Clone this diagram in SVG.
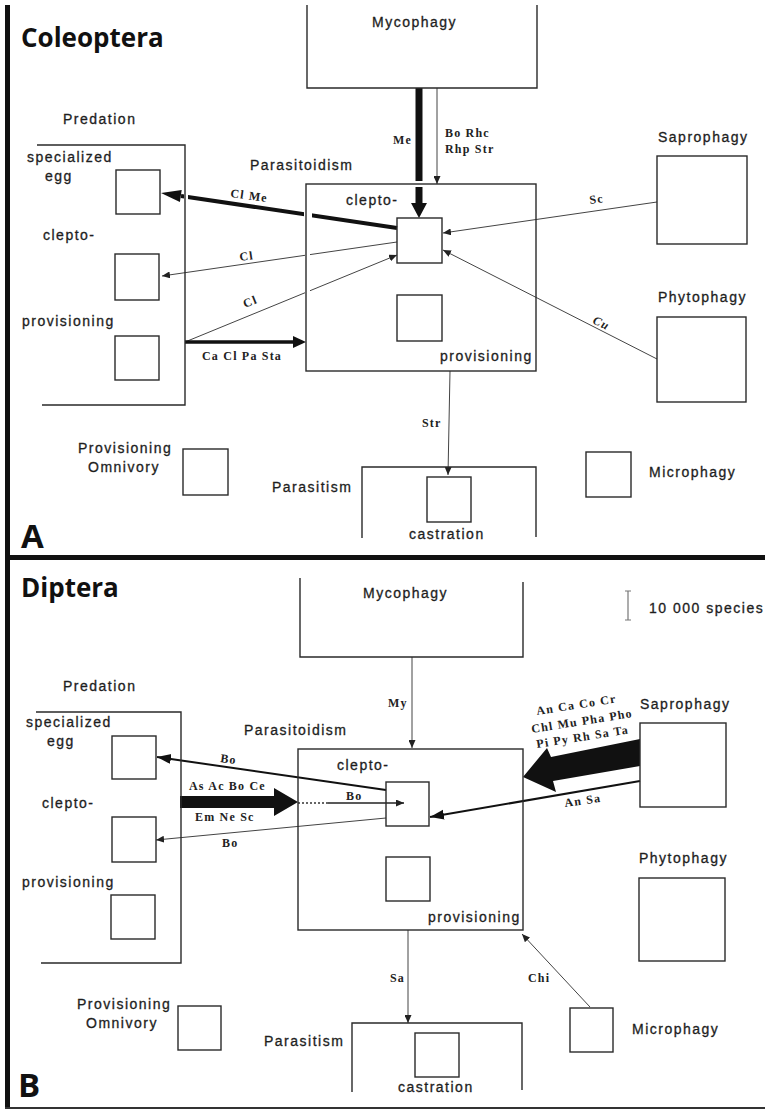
<svg xmlns="http://www.w3.org/2000/svg" width="765" height="1110" viewBox="0 0 765 1110">
<defs>
<style>
.t{font-family:"Liberation Sans",Arial,sans-serif;font-size:14px;letter-spacing:1.5px;fill:#1e1e1e;stroke:#1e1e1e;stroke-width:0.3}
.s{font-family:"Liberation Serif","Times New Roman",serif;font-size:12px;font-weight:bold;letter-spacing:1.2px;fill:#222}
.h{font-family:"Open Sans","DejaVu Sans",sans-serif;font-weight:bold;fill:#111}
.b{fill:none;stroke:#2a2a2a;stroke-width:1.4}
.c{fill:none;stroke:#444;stroke-width:1}
.m{fill:none;stroke:#111;stroke-width:2}
.f{fill:#111}
.g{fill:#fff}
</style>
<marker id="ah" markerUnits="userSpaceOnUse" markerWidth="9" markerHeight="7" refX="8" refY="3.5" orient="auto"><path d="M0,0 L8,3.5 L0,7 z" fill="#222"/></marker>
<marker id="am" markerUnits="userSpaceOnUse" markerWidth="15" markerHeight="11" refX="14" refY="5" orient="auto"><path d="M0,0 L14,5 L0,10 z" fill="#111"/></marker>
</defs>
<rect width="765" height="1110" fill="#fff"/>

<g id="frame">
<rect x="5" y="5" width="5" height="1104" fill="#111"/>
<rect x="5" y="555" width="760" height="5" fill="#111"/>
<line x1="5" y1="1108" x2="765" y2="1108" stroke="#333" stroke-width="2"/>
<text class="h" x="21" y="47" font-size="26">Coleoptera</text>
<text class="h" x="21" y="548" font-size="33">A</text>
<text class="h" x="21" y="597" font-size="26">Diptera</text>
<text class="h" x="18" y="1097" font-size="33">B</text>
</g>

<g id="connectors">
<!-- Panel A -->
<line x1="419" y1="88" x2="419" y2="204" stroke="#111" stroke-width="7"/>
<polygon class="f" points="411,203 427,203 419,218"/>
<line class="c" x1="437" y1="88" x2="437" y2="184" marker-end="url(#ah)"/>
<line x1="397" y1="228" x2="181" y2="196" stroke="#111" stroke-width="4"/>
<polygon class="f" points="161,193 181.7,190 179.9,201.9"/>
<line class="c" x1="397" y1="242" x2="162" y2="276" marker-end="url(#ah)"/>
<line class="c" x1="185" y1="342" x2="397" y2="255" marker-end="url(#ah)"/>
<line x1="185" y1="342" x2="294" y2="342" stroke="#111" stroke-width="3.5"/>
<polygon class="f" points="293,336 306,342 293,348"/>
<line class="c" x1="657" y1="202" x2="443" y2="233" marker-end="url(#ah)"/>
<line class="c" x1="657" y1="359" x2="443" y2="250" marker-end="url(#ah)"/>
<line class="c" x1="450" y1="371" x2="448" y2="475" marker-end="url(#ah)"/>
<rect class="g" x="413" y="181" width="12" height="6"/>
<rect class="g" x="304" y="209" width="8" height="11"/>
<rect class="g" x="184" y="191" width="4" height="10"/>
<rect class="g" x="305" y="252" width="5" height="6"/>
<rect class="g" x="305" y="289" width="5" height="6"/>
<text class="s" x="393" y="144">Me</text>
<text class="s" x="445" y="137">Bo Rhc</text>
<text class="s" x="445" y="153">Rhp Str</text>
<text class="s" x="230" y="197" transform="rotate(8 230 197)">Cl Me</text>
<text class="s" x="240" y="261" transform="rotate(-8 240 261)">Cl</text>
<text class="s" x="245" y="308" transform="rotate(-22 245 308)">Cl</text>
<text class="s" x="202" y="360">Ca Cl Pa Sta</text>
<text class="s" x="590" y="204" transform="rotate(-8 590 204)">Sc</text>
<text class="s" x="592" y="323" font-style="italic" transform="rotate(25 592 323)">Cu</text>
<text class="s" x="422" y="427">Str</text>

<!-- Panel B -->
<line class="c" x1="412" y1="657" x2="412" y2="748" marker-end="url(#ah)"/>
<line class="m" x1="386" y1="790" x2="157" y2="757" marker-end="url(#am)"/>
<polygon class="f" points="180,796 274,796 274,788 298,802 274,816 274,808 180,808"/>
<line x1="298" y1="803" x2="328" y2="803" stroke="#333" stroke-width="1.3" stroke-dasharray="2,2"/>
<line x1="328" y1="803" x2="404" y2="803" stroke="#222" stroke-width="1.3" marker-end="url(#ah)"/>
<line class="c" x1="386" y1="818" x2="156" y2="840" marker-end="url(#ah)"/>
<polygon class="f" points="640,739 551,757 547,748 523,777 556,792 553,781 640,766"/>
<line class="m" x1="640" y1="781" x2="430" y2="817" stroke-width="1.8" marker-end="url(#am)"/>
<line class="c" x1="408" y1="930" x2="408" y2="1023" marker-end="url(#ah)"/>
<line class="c" x1="590" y1="1007" x2="522" y2="934" marker-end="url(#ah)"/>
<text class="s" x="388" y="707">My</text>
<text class="s" x="220" y="762" transform="rotate(8 220 762)">Bo</text>
<text class="s" x="189" y="790">As Ac Bo Ce</text>
<text class="s" x="195" y="821">Em Ne Sc</text>
<text class="s" x="346" y="800">Bo</text>
<text class="s" x="222" y="847">Bo</text>
<text class="s" x="537" y="715" transform="rotate(-9 537 715)">An Ca Co Cr</text>
<text class="s" x="532" y="733" transform="rotate(-9 532 733)">Chl Mu Pha Pho</text>
<text class="s" x="537" y="748" transform="rotate(-9 537 748)">Pi Py Rh Sa Ta</text>
<text class="s" x="565" y="807" transform="rotate(-8 565 807)">An Sa</text>
<text class="s" x="390" y="982">Sa</text>
<text class="s" x="528" y="982">Chi</text>
</g>

<!-- Panel A nodes -->
<g id="a-mycophagy">
<path class="b" d="M307,5 V88 H537 V5"/>
<text class="t" x="372" y="27">Mycophagy</text>
</g>
<g id="a-predation">
<path class="b" d="M37,145 H185 V405 H42"/>
<text class="t" x="63" y="124">Predation</text>
<text class="t" x="27" y="162">specialized</text>
<text class="t" x="45" y="181">egg</text>
<rect class="b" x="116" y="170" width="44" height="44"/>
<text class="t" x="43" y="240">clepto-</text>
<rect class="b" x="115" y="254" width="44" height="46"/>
<text class="t" x="22" y="326">provisioning</text>
<rect class="b" x="115" y="336" width="44" height="44"/>
</g>
<g id="a-parasitoidism">
<rect class="b" x="306" y="184" width="230" height="187"/>
<text class="t" x="250" y="170">Parasitoidism</text>
<text class="t" x="346" y="205">clepto-</text>
<rect class="b" x="397" y="218" width="45" height="45"/>
<rect class="b" x="397" y="295" width="45" height="46"/>
<text class="t" x="440" y="361">provisioning</text>
</g>
<g id="a-saprophagy">
<text class="t" x="658" y="142">Saprophagy</text>
<rect class="b" x="657" y="156" width="90" height="88"/>
</g>
<g id="a-phytophagy">
<text class="t" x="658" y="302">Phytophagy</text>
<rect class="b" x="657" y="317" width="89" height="85"/>
</g>
<g id="a-omnivory">
<text class="t" x="78" y="453">Provisioning</text>
<text class="t" x="88" y="472">Omnivory</text>
<rect class="b" x="183" y="449" width="45" height="46"/>
</g>
<g id="a-parasitism">
<path class="b" d="M362,538 V467 H536 V537"/>
<text class="t" x="272" y="492">Parasitism</text>
<rect class="b" x="427" y="477" width="44" height="45"/>
<text class="t" x="409" y="539">castration</text>
</g>
<g id="a-microphagy">
<rect class="b" x="586" y="452" width="45" height="45"/>
<text class="t" x="649" y="477">Microphagy</text>
</g>

<!-- Panel B nodes -->
<g id="b-mycophagy">
<path class="b" d="M300,578 V657 H523 V582"/>
<text class="t" x="363" y="598">Mycophagy</text>
</g>
<g id="b-scale">
<path d="M625,591 H631 M628,591 V620 M625,620 H631" fill="none" stroke="#777" stroke-width="1.2"/>
<text class="t" x="649" y="613">10 000 species</text>
</g>
<g id="b-predation">
<path class="b" d="M36,712 H181 V963 H41"/>
<text class="t" x="63" y="691">Predation</text>
<text class="t" x="26" y="727">specialized</text>
<text class="t" x="47" y="746">egg</text>
<rect class="b" x="112" y="736" width="44" height="43"/>
<text class="t" x="42" y="808">clepto-</text>
<rect class="b" x="112" y="817" width="44" height="45"/>
<text class="t" x="22" y="887">provisioning</text>
<rect class="b" x="111" y="895" width="44" height="44"/>
</g>
<g id="b-parasitoidism">
<rect class="b" x="298" y="749" width="225" height="181"/>
<text class="t" x="244" y="735">Parasitoidism</text>
<text class="t" x="337" y="770">clepto-</text>
<rect class="b" x="386" y="782" width="43" height="44"/>
<rect class="b" x="386" y="857" width="44" height="44"/>
<text class="t" x="428" y="922">provisioning</text>
</g>
<g id="b-saprophagy">
<text class="t" x="640" y="709">Saprophagy</text>
<rect class="b" x="640" y="723" width="86" height="84"/>
</g>
<g id="b-phytophagy">
<text class="t" x="639" y="863">Phytophagy</text>
<rect class="b" x="639" y="878" width="86" height="83"/>
</g>
<g id="b-omnivory">
<text class="t" x="77" y="1009">Provisioning</text>
<text class="t" x="86" y="1028">Omnivory</text>
<rect class="b" x="178" y="1006" width="43" height="44"/>
</g>
<g id="b-parasitism">
<path class="b" d="M352,1092 V1023 H522 V1090"/>
<text class="t" x="264" y="1046">Parasitism</text>
<rect class="b" x="415" y="1033" width="44" height="44"/>
<text class="t" x="398" y="1092">castration</text>
</g>
<g id="b-microphagy">
<rect class="b" x="570" y="1008" width="43" height="44"/>
<text class="t" x="632" y="1034">Microphagy</text>
</g>
</svg>
